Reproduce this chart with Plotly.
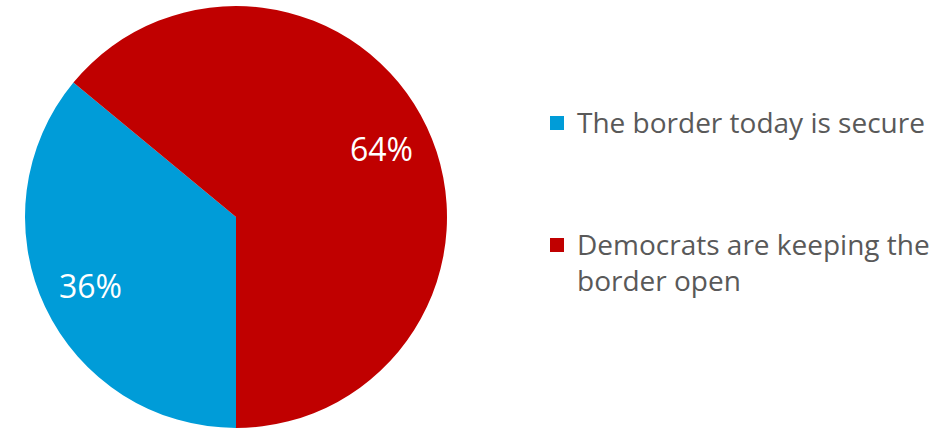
import math
import plotly.graph_objects as go

labels = ["The border today is secure", "Democrats are keeping the border open"]
legend_text = ["The border today is secure", "Democrats are keeping the<br>border open"]
values = [36, 64]
colors = ["#009CD8", "#C00000"]

W, H = 948, 430
cx, cy, r = 236, 217, 211
rotation = 180  # degrees clockwise from 12 o'clock where first slice starts

fig = go.Figure(go.Pie(
    labels=labels, values=values, sort=False, direction="clockwise", rotation=rotation,
    marker=dict(colors=colors, line=dict(width=0)),
    textinfo="none",
    domain=dict(x=[(cx - r) / W, (cx + r) / W], y=[(H - cy - r) / H, (H - cy + r) / H]),
    showlegend=False, hoverinfo="label+percent",
))

# percent labels placed along each slice's mid-angle
total = sum(values)
start = rotation
for v in values:
    mid = start + 360 * v / total / 2
    start += 360 * v / total
    rad = math.radians(mid)
    px = cx + 0.76 * r * math.sin(rad)
    py = cy - 0.76 * r * math.cos(rad)
    fig.add_annotation(text=f"{round(100 * v / total)}%", xref="paper", yref="paper",
                       x=px / W, y=(H - py) / H, xanchor="center", yanchor="middle",
                       showarrow=False, font=dict(family="Open Sans", size=32, color="white"))

leg_y = [123, 245]
for txt, col, y in zip(legend_text, colors, leg_y):
    fig.add_shape(type="rect", xref="paper", yref="paper",
                  x0=550 / W, x1=564 / W, y0=(H - y - 7) / H, y1=(H - y + 7) / H,
                  fillcolor=col, line=dict(width=0))
    fig.add_annotation(text=txt, xref="paper", yref="paper", x=575 / W, y=(H - y + 22) / H,
                       xanchor="left", yanchor="top", align="left", showarrow=False,
                       font=dict(family="Open Sans", size=28, color="#595959"))

fig.update_layout(width=W, height=H, margin=dict(l=0, r=0, t=0, b=0),
                  paper_bgcolor="white", plot_bgcolor="white")
fig.write_html("out.html", config={"displayModeBar": False},
               post_script="document.body.style.margin='0';")
